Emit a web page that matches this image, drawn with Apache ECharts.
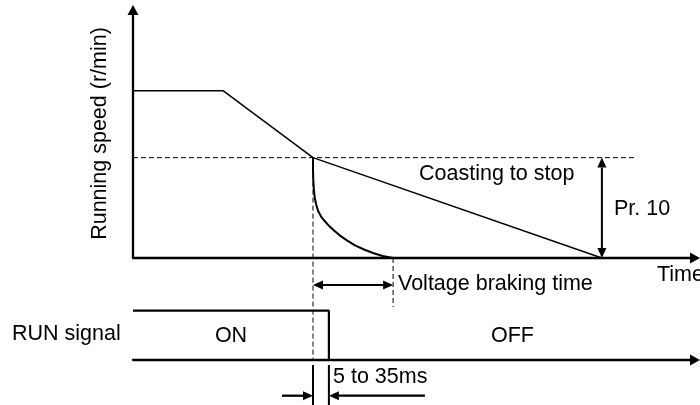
<!DOCTYPE html>
<html>
<head>
<meta charset="utf-8">
<script src="https://cdn.jsdelivr.net/npm/echarts@6/dist/echarts.min.js"></script>
<style>
html,body{margin:0;padding:0;background:#fff;}
#chart{width:700px;height:405px;}
</style>
</head>
<body>
<div id="chart"></div>
<script>
// ---------------- DATA ----------------
// time in arbitrary units, speed in % of running speed, RUN signal 1 = ON, 0 = OFF
const profileTime  = [0, 30, 60, 156.3];          // run, decelerate, coast to stop
const profileSpeed = [100, 100, 60, 0];
const brakeTime  = [60, 60, 60.1, 60.3, 60.6, 61.1, 61.7, 62.7, 63.9, 65.4, 67, 69, 71.3, 74, 77, 80, 83.2, 86.7];
const brakeSpeed = [60, 52.6, 46.6, 40.6, 35.9, 31.7, 28.1, 24.8, 22.1, 19.1, 16.4, 13.4, 10.5, 7.5, 5.1, 3.0, 1.2, 0];
const runTime  = [0, 65.3, 65.3];
const runLevel = [1, 1, 0];
const pr10Speed      = 60;    // Pr. 10 level
const brakeStartTime = 60;
const brakeEndTime   = 86.7;
const runOffTime     = 65.3;
const coastEndTime   = 156.3;
const texts = {
  yName: 'Running speed (r/min)', xName: 'Time', coast: 'Coasting to stop', pr10: 'Pr. 10',
  brake: 'Voltage braking time', run: 'RUN signal', on: 'ON', off: 'OFF', delay: '5 to 35ms'
};

// ---------------- LAYOUT ----------------
const W = 700, H = 405;
const FONT_FAMILY = "'Liberation Sans', Arial, Helvetica, sans-serif";
const FS = 21.5;
const AX_LEFT = 133;            // px of time 0
const PX_PER_T = 3;
const SPEED_BASE_Y = 258;       // px of speed 0
const PX_PER_SPEED = 1.673;
const SIG_BASE_Y = 360, SIG_HIGH_Y = 310.7;
const ARROW_TIP_X = 700, ARROW_TIP_Y = 5;
const AXIS_ARROW = [11, 10];
const gridRight = W - ARROW_TIP_X + AXIS_ARROW[1] / 2;
const gridTop = ARROW_TIP_Y + AXIS_ARROW[1] / 2;
const xMax = (W - gridRight - AX_LEFT) / PX_PER_T;
const yMax = (SPEED_BASE_Y - gridTop) / PX_PER_SPEED;

function axisX(gi) {
  return {
    type: 'value', gridIndex: gi, min: 0, max: xMax,
    axisLine: { show: true, symbol: ['none', 'triangle'], symbolSize: AXIS_ARROW,
      lineStyle: { color: '#000', width: 2.3 } },
    axisTick: { show: false }, axisLabel: { show: false }, splitLine: { show: false }
  };
}

// annotation shapes (pixel offsets only used to place the annotation off the scale)
const annSpeed = [
  { from: [0, pr10Speed], to: [coastEndTime, pr10Speed], dx2: 33, dash: true, w: 1 },
  { from: [brakeStartTime, pr10Speed], to: [brakeStartTime, 0], dy2: SIG_BASE_Y - SPEED_BASE_Y, dash: true, w: 1 },
  { from: [brakeEndTime, 0], to: [brakeEndTime, 0], dy2: 49, dash: true, w: 1 },
  { from: [coastEndTime, pr10Speed], to: [coastEndTime, 0], heads: [1, 1], w: 2 },
  { from: [brakeStartTime, 0], to: [brakeEndTime, 0], dy1: 27, dy2: 27, heads: [1, 1], w: 2 }
];
const annSignal = [
  { from: [brakeStartTime, 0], to: [brakeStartTime, 0], dy1: 5, dy2: H - SIG_BASE_Y + 2, w: 2 },
  { from: [runOffTime, 0], to: [runOffTime, 0], dy1: 5, dy2: H - SIG_BASE_Y + 2, w: 2 },
  { from: [brakeStartTime, 0], to: [brakeStartTime, 0], dx1: -31, dy1: 35.7, dy2: 35.7, heads: [0, 1], w: 2.3 },
  { from: [runOffTime, 0], to: [runOffTime, 0], dx1: 96, dy1: 35.7, dy2: 35.7, heads: [0, 1], w: 2.3 }
];

function headPoly(tip, dir, L, Wd) {
  const bx = tip[0] - dir[0] * L, by = tip[1] - dir[1] * L;
  const nx = -dir[1], ny = dir[0];
  return { base: [bx, by], pts: [[tip[0], tip[1]], [bx + nx * Wd / 2, by + ny * Wd / 2], [bx - nx * Wd / 2, by - ny * Wd / 2]] };
}
function renderAnn(list) {
  return function (params, api) {
    const a = list[params.dataIndex];
    const p1 = api.coord(a.from), p2 = api.coord(a.to);
    let x1 = p1[0] + (a.dx1 || 0), y1 = p1[1] + (a.dy1 || 0);
    let x2 = p2[0] + (a.dx2 || 0), y2 = p2[1] + (a.dy2 || 0);
    const len = Math.hypot(x2 - x1, y2 - y1) || 1;
    const dir = [(x2 - x1) / len, (y2 - y1) / len];
    const children = [];
    const heads = a.heads || [0, 0];
    const L = 10, HW = 9;
    let lx1 = x1, ly1 = y1, lx2 = x2, ly2 = y2;
    if (heads[1]) {
      const h = headPoly([x2, y2], dir, L, HW);
      lx2 = h.base[0]; ly2 = h.base[1];
      children.push({ type: 'polygon', shape: { points: h.pts }, style: { fill: '#000' } });
    }
    if (heads[0]) {
      const h = headPoly([x1, y1], [-dir[0], -dir[1]], L, HW);
      lx1 = h.base[0]; ly1 = h.base[1];
      children.push({ type: 'polygon', shape: { points: h.pts }, style: { fill: '#000' } });
    }
    children.unshift({ type: 'line', shape: { x1: lx1, y1: ly1, x2: lx2, y2: ly2 },
      style: { stroke: '#000', lineWidth: a.w || 1, lineDash: a.dash ? [5, 3] : null } });
    return { type: 'group', children: children };
  };
}

function txt(s, x, y, align, rot) {
  return { type: 'text', x: x, y: y, rotation: rot || 0, silent: true,
    style: { text: s, font: FS + 'px ' + FONT_FAMILY, fill: '#000',
      align: align || 'left', verticalAlign: 'middle',
      textAlign: align || 'left', textVerticalAlign: 'middle' } };
}

const chart = echarts.init(document.getElementById('chart'), null, { renderer: 'canvas' });
chart.setOption({
  animation: false,
  backgroundColor: '#fff',
  grid: [
    { left: AX_LEFT, right: gridRight, top: gridTop, bottom: H - SPEED_BASE_Y },
    { left: AX_LEFT, right: gridRight, top: SIG_HIGH_Y, bottom: H - SIG_BASE_Y }
  ],
  xAxis: [axisX(0), axisX(1)],
  yAxis: [
    { type: 'value', gridIndex: 0, min: 0, max: yMax,
      axisLine: { show: true, symbol: ['none', 'triangle'], symbolSize: AXIS_ARROW,
        lineStyle: { color: '#000', width: 2.3 } },
      axisTick: { show: false }, axisLabel: { show: false }, splitLine: { show: false } },
    { type: 'value', gridIndex: 1, min: 0, max: 1, show: false }
  ],
  series: [
    { type: 'line', xAxisIndex: 0, yAxisIndex: 0, clip: false, symbol: 'none', silent: true,
      data: profileTime.map((t, i) => [t, profileSpeed[i]]),
      lineStyle: { color: '#000', width: 1.5 } },
    { type: 'line', xAxisIndex: 0, yAxisIndex: 0, clip: false, symbol: 'none', silent: true, smooth: false,
      data: brakeTime.map((t, i) => [t, brakeSpeed[i]]),
      lineStyle: { color: '#000', width: 2, join: 'round' } },
    { type: 'line', xAxisIndex: 1, yAxisIndex: 1, clip: false, symbol: 'none', silent: true,
      data: runTime.map((t, i) => [t, runLevel[i]]),
      lineStyle: { color: '#000', width: 2.2 } },
    { type: 'custom', xAxisIndex: 0, yAxisIndex: 0, silent: true, clip: false,
      encode: { x: [0, 2], y: [1, 3] },
      data: annSpeed.map(a => [a.from[0], a.from[1], a.to[0], a.to[1]]),
      renderItem: renderAnn(annSpeed) },
    { type: 'custom', xAxisIndex: 1, yAxisIndex: 1, silent: true, clip: false,
      encode: { x: [0, 2], y: [1, 3] },
      data: annSignal.map(a => [a.from[0], a.from[1], a.to[0], a.to[1]]),
      renderItem: renderAnn(annSignal) }
  ],
  graphic: [
    txt(texts.yName, 100, 133.5, 'center', Math.PI / 2),
    txt(texts.coast, 419, 174.5),
    txt(texts.pr10, 614, 209),
    txt(texts.xName, 657, 275),
    txt(texts.brake, 398, 284),
    txt(texts.run, 12, 334.5),
    txt(texts.on, 231, 336, 'center'),
    txt(texts.off, 512.5, 336, 'center'),
    txt(texts.delay, 333, 377)
  ]
});
</script>
</body>
</html>
